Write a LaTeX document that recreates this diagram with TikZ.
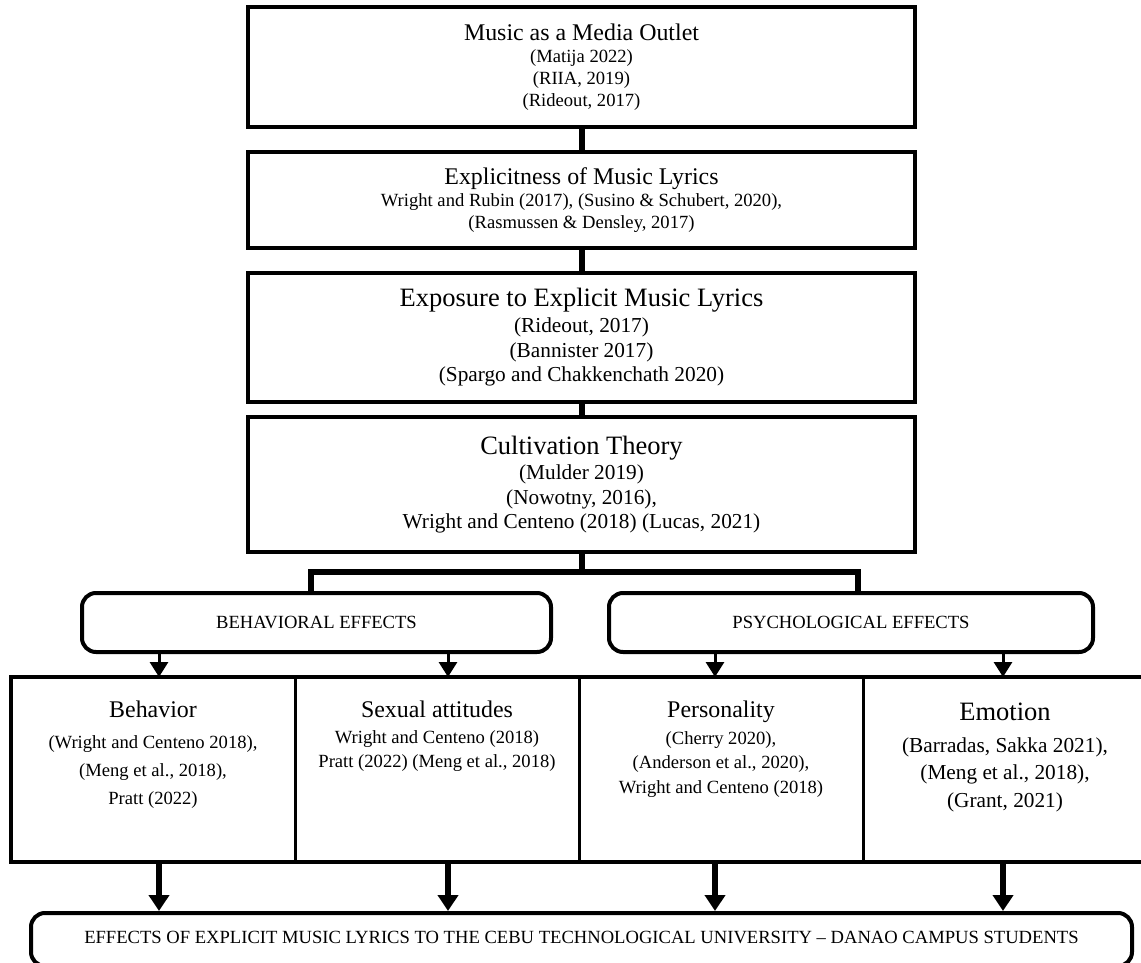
\documentclass[tikz,border=0pt]{standalone}
\usepackage{fontspec}
\setmainfont{Liberation Serif}
\usetikzlibrary{positioning,arrows.meta}

\newcommand{\hdsize}{\fontsize{23.9}{27}\selectfont}
\newcommand{\hdbigsize}{\fontsize{26.5}{30}\selectfont}
\newcommand{\refsize}{\fontsize{18.6}{22}\selectfont}
\newcommand{\refbigsize}{\fontsize{21.3}{24.5}\selectfont}

\tikzstyle{txt} = [text centered, inner sep=0pt, align=center]
\tikzstyle{box} = [draw, line width=3.3pt, minimum width=667pt, inner sep=0pt, align=center]
\tikzstyle{fxbox} = [draw, line width=4pt, rounded corners=14pt, minimum height=59pt, inner sep=0pt]
\tikzstyle{cell} = [draw, line width=3pt, minimum width=284pt, minimum height=185pt, inner sep=0pt, outer sep=0pt]
\tikzstyle{link} = [line width=6pt]

\begin{document}
\begin{tikzpicture}[x=1pt, y=-1pt,
>={Triangle[length=15pt,width=18pt]},
font=\refsize,
]
\useasboundingbox (0,0) rectangle (1141,963);

%MEDIA
\node[box, minimum height=120pt] (media) at (581.5,67) {{\hdsize Music as a Media Outlet}\\(Matija 2022)\\ (RIIA, 2019)\\(Rideout, 2017)};

%EXPLICITNESS
\node[box, minimum height=96pt] (explicit) at (581.5,200) {{\hdsize Explicitness of Music Lyrics}\\Wright and Rubin (2017), (Susino \& Schubert, 2020),\\(Rasmussen \& Densley, 2017)};

%EXPOSURE
\node[box, minimum height=129pt, font=\refbigsize] (exposure) at (581.5,337.5) {{\hdbigsize Exposure to Explicit Music Lyrics}\\[1.5pt](Rideout, 2017)\\(Bannister 2017)\\(Spargo and Chakkenchath 2020)};

%THEORY
\node[box, minimum height=135pt, font=\refbigsize] (theory) at (581.5,484.5) {{\hdbigsize Cultivation Theory}\\[1pt](Mulder 2019)\\(Nowotny, 2016),\\Wright and Centeno (2018) (Lucas, 2021)};

\foreach \a/\b in {media/explicit,explicit/exposure,exposure/theory}
  \draw[link] (\a.south) -- (\b.north);

%EFFECT GROUPS
\node[fxbox, minimum width=469pt] (behfx) at (316.5,622.5) {BEHAVIORAL EFFECTS};
\node[fxbox, minimum width=484pt] (psyfx) at (851,622.5) {PSYCHOLOGICAL EFFECTS};

\coordinate (forkL) at (311,572);
\coordinate (forkR) at (858,572);
\draw[link] (theory.south) -- (theory.south |- forkL);
\draw[link] (behfx.north -| forkL) -- (forkL) -- (forkR) -- (psyfx.north -| forkR);

%CELLS
\node[cell] (behv) at (153,769.5) {};
\node[cell, right=0pt of behv] (sexa) {};
\node[cell, right=0pt of sexa] (pers) {};
\node[cell, right=0pt of pers] (emot) {};
\draw[line width=4.5pt] (behv.north west) rectangle (emot.south east);

\node[txt, below=24pt of behv.north] (behvtxt) {{\hdsize Behavior}\\[8.6pt](Wright and Centeno 2018),\\[6.5pt](Meng et al., 2018),\\[6pt]Pratt (2022)};
\node[txt, below=24pt of sexa.north] (sexatxt) {{\hdsize Sexual attitudes}\\[4pt]Wright and Centeno (2018)\\[2pt]Pratt (2022) (Meng et al., 2018)};
\node[txt, below=24pt of pers.north] (perstxt) {{\hdsize Personality}\\[4.6pt](Cherry 2020),\\[2.5pt](Anderson et al., 2020),\\[2.5pt]Wright and Centeno (2018)};
\node[txt, below=26pt of emot.north, font=\refbigsize] (emottxt) {{\hdbigsize Emotion}\\[7pt](Barradas, Sakka 2021),\\[3pt](Meng et al., 2018),\\[3pt](Grant, 2021)};

%OUTCOME
\node[draw, line width=4pt, rounded corners=14pt, minimum width=1101pt, minimum height=53pt] (effects) at (581.5,939.5) {};
\node[txt, below=20pt of effects.north] (effectstxt) {EFFECTS OF EXPLICIT MUSIC LYRICS TO THE CEBU TECHNOLOGICAL UNIVERSITY -- DANAO CAMPUS STUDENTS};

\foreach \c/\dx in {behv/6,sexa/11,pers/-6,emot/-2} {%
 \draw[->, line width=3pt] ([xshift=\dx pt]\c.north |- behfx.south) -- ([xshift=\dx pt]\c.north);
 \draw[->, line width=6.5pt, >={Triangle[length=16pt,width=20pt]}] ([xshift=\dx pt]\c.south) -- ([xshift=\dx pt]\c.south |- effects.north);
}

\end{tikzpicture}
\end{document}
